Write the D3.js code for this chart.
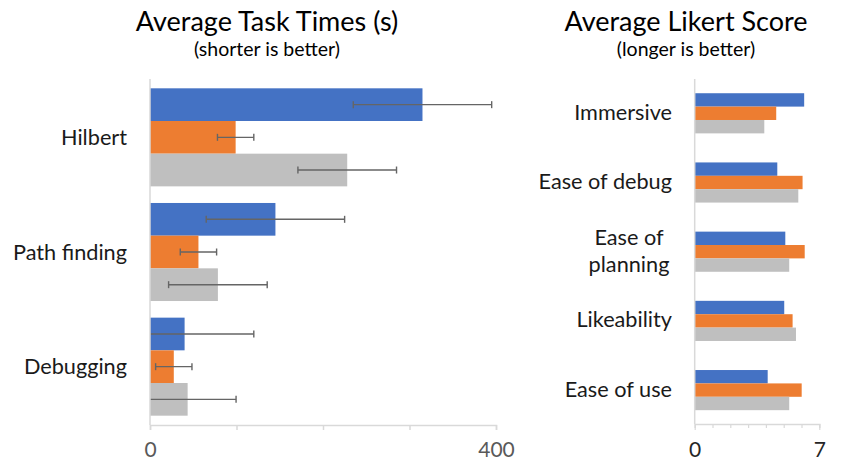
<!DOCTYPE html>
<html>
<head>
<meta charset="utf-8">
<script src="https://cdn.jsdelivr.net/npm/d3@7/dist/d3.min.js"></script>
<style>
  html, body { margin: 0; padding: 0; background: #fff; }
  svg { display: block; font-family: Lato, "Open Sans", sans-serif; }
</style>
</head>
<body>
<svg id="chart" width="842" height="465"></svg>
<script>
// ---------- DATA ----------
const seriesNames = ["Series 1", "Series 2", "Series 3"];
const seriesColors = ["#4472C4", "#ED7D31", "#BFBFBF"];

// Left chart: average task times (s)
const taskCategories = ["Hilbert", "Path finding", "Debugging"];
const taskSeries1 = [315, 145, 40];
const taskSeries2 = [99, 56, 27.5];
const taskSeries3 = [228, 78.5, 43.5];
const taskErr1 = [80, 80, 80];
const taskErr2 = [21, 21, 21];
const taskErr3 = [57, 57, 56];
const taskTicks = [0, 100, 200, 300, 400];
const taskTickLabels = ["0", "", "", "", "400"];

// Right chart: average Likert score
const likertCategories = ["Immersive", "Ease of debug", "Ease of planning", "Likeability", "Ease of use"];
const likertLabelLines = [["Immersive"], ["Ease of debug"], ["Ease of", "planning"], ["Likeability"], ["Ease of use"]];
const likertSeries1 = [6.15, 4.64, 5.09, 5.03, 4.10];
const likertSeries2 = [4.58, 6.06, 6.18, 5.50, 6.01];
const likertSeries3 = [3.91, 5.82, 5.31, 5.69, 5.31];
const likertTicks = [0, 1, 2, 3, 4, 5, 6, 7];
const likertTickLabels = ["0", "", "", "", "", "", "", "7"];

// ---------- DRAW ----------
const svg = d3.select("#chart");
const axisColor = "#D9D9D9";

function title(cx, main, sub) {
  svg.append("text").attr("x", cx).attr("y", 31).attr("text-anchor", "middle")
    .attr("font-size", 27).attr("fill", "#000").text(main);
  svg.append("text").attr("x", cx).attr("y", 56).attr("text-anchor", "middle")
    .attr("font-size", 19.5).attr("fill", "#000").text(sub);
}
title(267, "Average Task Times (s)", "(shorter is better)");
title(686, "Average Likert Score", "(longer is better)");

// ----- Left chart -----
{
  const x = d3.scaleLinear().domain([0, 400]).range([150, 496]);
  const y = d3.scaleBand().domain(taskCategories).range([80, 424])
    .paddingInner(0.145).paddingOuter(0.0725);
  const ys = d3.scaleBand().domain(seriesNames).range([0, y.bandwidth()]);
  const vals = [taskSeries1, taskSeries2, taskSeries3];
  const errs = [taskErr1, taskErr2, taskErr3];

  const rows = [];
  taskCategories.forEach((c, i) => seriesNames.forEach((s, j) =>
    rows.push({ c, s, j, v: vals[j][i], e: errs[j][i] })));

  svg.append("g").selectAll("rect").data(rows).join("rect")
    .attr("x", x(0)).attr("y", d => y(d.c) + ys(d.s))
    .attr("width", d => x(d.v) - x(0)).attr("height", ys.bandwidth())
    .attr("fill", d => seriesColors[d.j]);

  // error bars
  const eg = svg.append("g").attr("stroke", "#656565").attr("stroke-width", 1.4);
  rows.forEach(d => {
    const cy = y(d.c) + ys(d.s) + ys.bandwidth() / 2;
    const lo = Math.max(0, d.v - d.e), hi = d.v + d.e;
    eg.append("line").attr("x1", x(lo)).attr("x2", x(hi)).attr("y1", cy).attr("y2", cy);
    eg.append("line").attr("x1", x(hi)).attr("x2", x(hi)).attr("y1", cy - 3.5).attr("y2", cy + 3.5);
    if (d.v - d.e > 0)
      eg.append("line").attr("x1", x(lo)).attr("x2", x(lo)).attr("y1", cy - 3.5).attr("y2", cy + 3.5);
  });

  // axes
  svg.append("line").attr("x1", x(0)).attr("x2", x(0)).attr("y1", 79).attr("y2", 425)
    .attr("stroke", axisColor).attr("stroke-width", 1.5);
  const xa = d3.axisBottom(x).tickValues(taskTicks).tickSize(5).tickPadding(12)
    .tickFormat((d, i) => taskTickLabels[i]);
  const gx = svg.append("g").attr("transform", "translate(0,425)").call(xa);
  gx.select(".domain").attr("stroke", axisColor).attr("stroke-width", 1.5);
  gx.selectAll(".tick line").attr("stroke", axisColor).attr("stroke-width", 1.5);
  gx.selectAll(".tick text").attr("font-size", 21).attr("fill", "#595959")
    .attr("font-family", "Lato, sans-serif");

  svg.append("g").selectAll("text").data(taskCategories).join("text")
    .attr("x", 127).attr("y", d => y(d) + y.bandwidth() / 2)
    .attr("dy", "0.35em").attr("text-anchor", "end")
    .attr("font-size", 21.7).attr("fill", "#1a1a1a").text(d => d);
}

// ----- Right chart -----
{
  const x = d3.scaleLinear().domain([0, 7]).range([694.7, 819.3]);
  const y = d3.scaleBand().domain(likertCategories).range([78.7, 424.7])
    .paddingInner(0.42).paddingOuter(0.21);
  const ys = d3.scaleBand().domain(seriesNames).range([0, y.bandwidth()]);
  const vals = [likertSeries1, likertSeries2, likertSeries3];

  const rows = [];
  likertCategories.forEach((c, i) => seriesNames.forEach((s, j) =>
    rows.push({ c, s, j, v: vals[j][i] })));

  svg.append("g").selectAll("rect").data(rows).join("rect")
    .attr("x", x(0)).attr("y", d => y(d.c) + ys(d.s))
    .attr("width", d => x(d.v) - x(0)).attr("height", ys.bandwidth())
    .attr("fill", d => seriesColors[d.j]);

  svg.append("line").attr("x1", x(0)).attr("x2", x(0)).attr("y1", 79).attr("y2", 424)
    .attr("stroke", axisColor).attr("stroke-width", 1.5);
  const xa = d3.axisBottom(x).tickValues(likertTicks).tickSize(4).tickPadding(14)
    .tickFormat((d, i) => likertTickLabels[i]);
  const gx = svg.append("g").attr("transform", "translate(0,424)").call(xa);
  gx.select(".domain").attr("stroke", axisColor).attr("stroke-width", 1.5);
  gx.selectAll(".tick line").attr("stroke", axisColor).attr("stroke-width", 1.2)
    .attr("y2", (d, i) => (likertTickLabels[i] ? 6 : 4));
  gx.selectAll(".tick text").attr("font-size", 21).attr("fill", "#262626")
    .attr("font-family", "Lato, sans-serif");

  const lg = svg.append("g");
  likertCategories.forEach((c, i) => {
    const lines = likertLabelLines[i];
    const cy = y(c) + y.bandwidth() / 2;
    const lh = 27;
    const t = lg.append("text")
      .attr("text-anchor", lines.length > 1 ? "middle" : "end")
      .attr("font-size", 21.7).attr("fill", "#1a1a1a");
    lines.forEach((ln, k) => {
      t.append("tspan")
        .attr("x", lines.length > 1 ? 629 : 672)
        .attr("y", cy - 1 + (k - (lines.length - 1) / 2) * lh)
        .attr("dy", "0.35em").text(ln);
    });
  });
}
</script>
</body>
</html>
